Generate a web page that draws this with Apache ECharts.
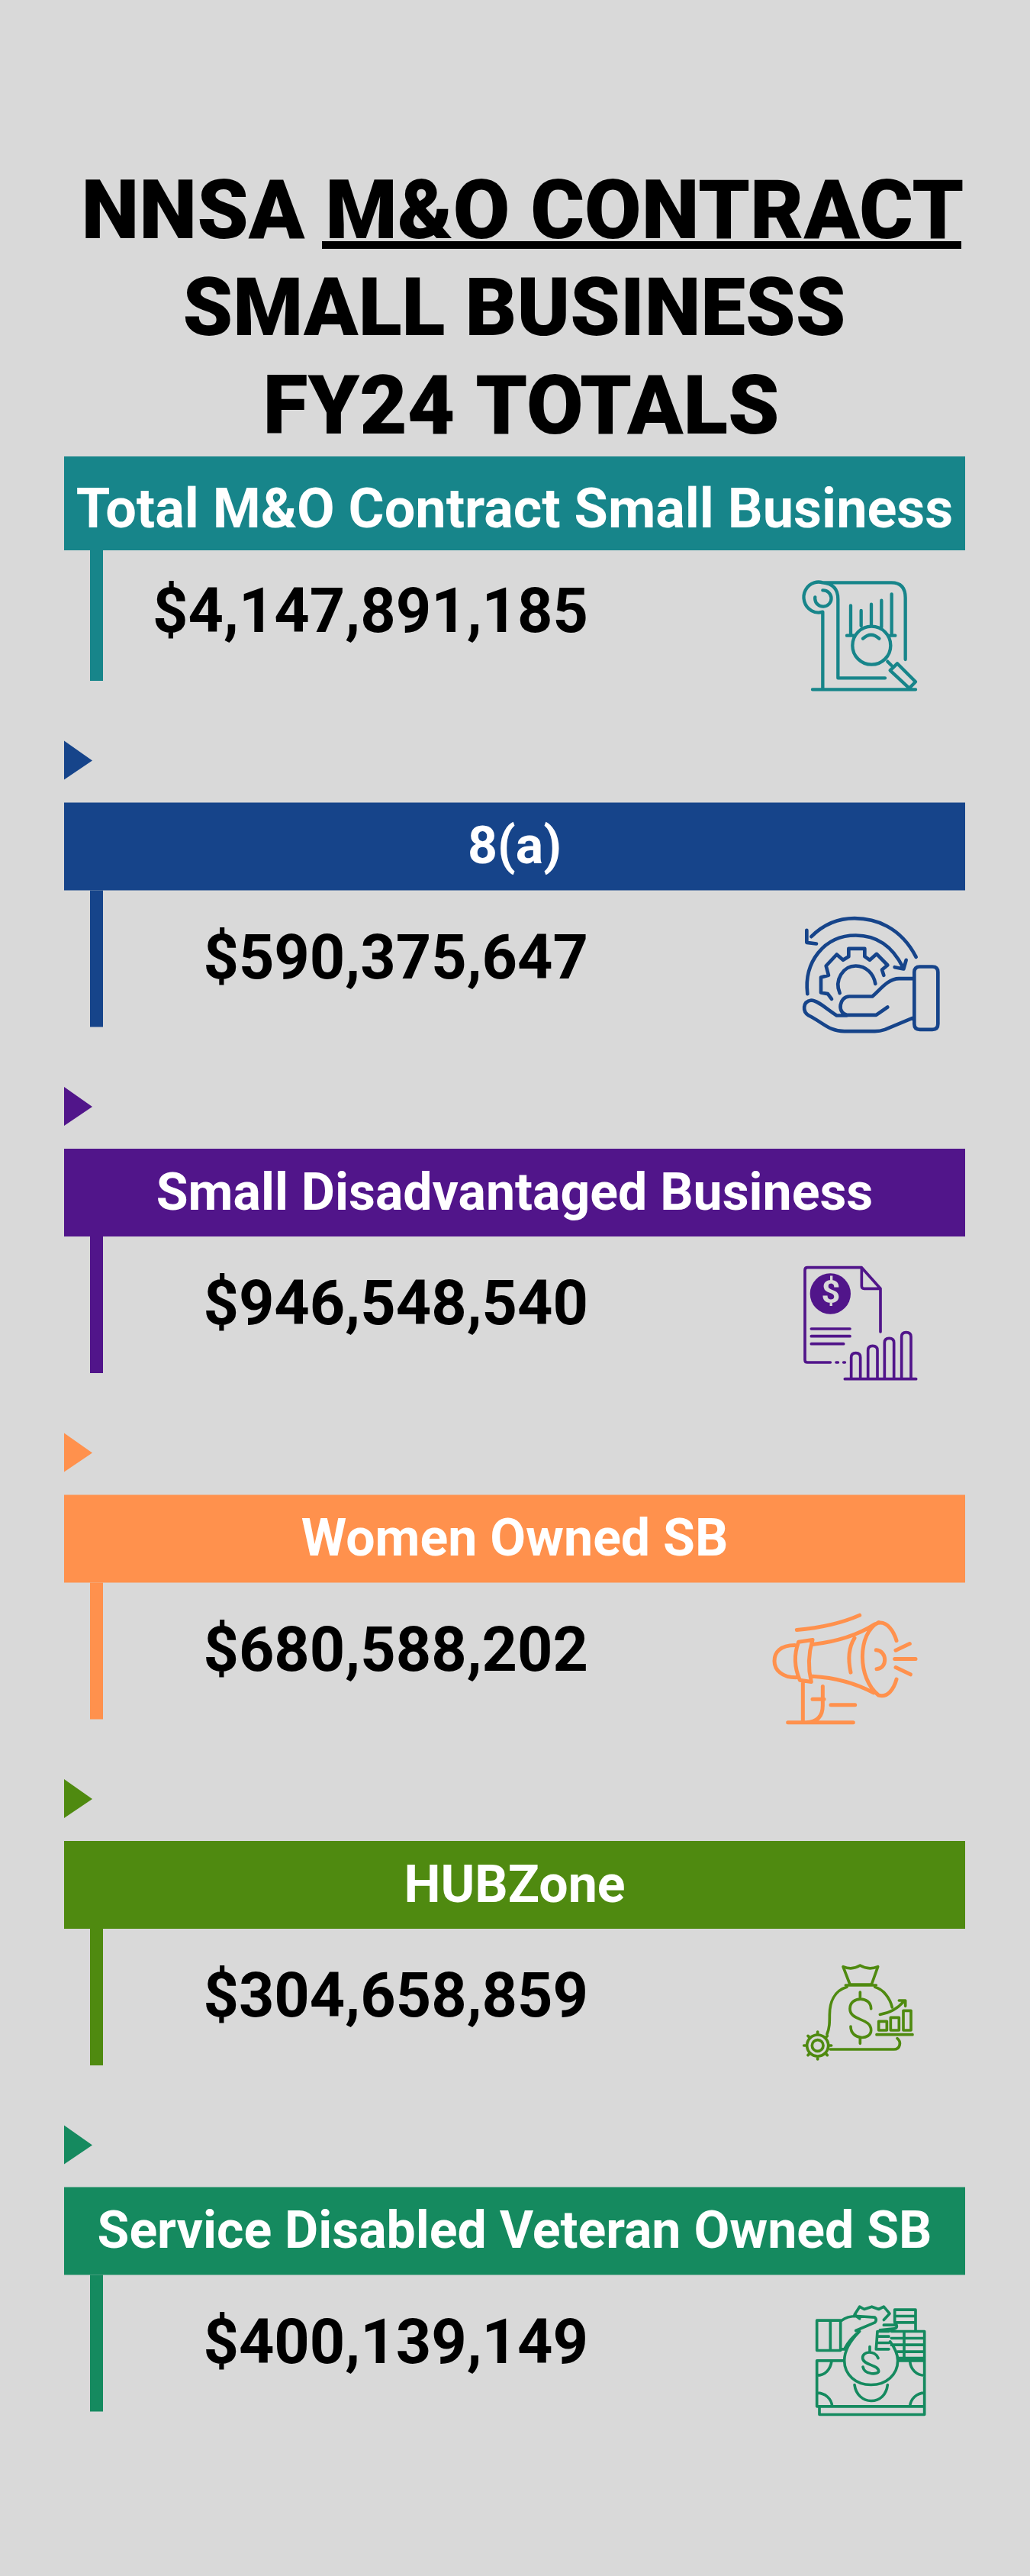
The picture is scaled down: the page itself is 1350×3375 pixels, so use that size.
<![CDATA[<!DOCTYPE html>
<html><head><meta charset="utf-8">
<style>html,body{margin:0;padding:0;background:#d9d9d9}#c{width:1350px;height:3375px}</style>
<script src="https://cdn.jsdelivr.net/npm/echarts@6/dist/echarts.min.js"></script>
</head><body><div id="c"></div>
<script>
const titleLines = ['NNSA M&O CONTRACT', 'SMALL BUSINESS', 'FY24 TOTALS'];
const categories = ['Total M&O Contract Small Business', '8(a)', 'Small Disadvantaged Business', 'Women Owned SB', 'HUBZone', 'Service Disabled Veteran Owned SB'];
const amounts = [4147891185, 590375647, 946548540, 680588202, 304658859, 400139149];
const colors = ['#17858a', '#16448a', '#51158a', '#ff914d', '#4f8a10', '#158a5f'];

const iconPaths = [
  'M385 245 A58 60 0 1 1 385 130 L655 130 Q710 130 710 190 L710 432 M385 245 L385 550 M385 130 Q445 135 445 195 L445 505 L630 505 M385 160 A32 32 0 1 1 355 187 M345 550 L750 550 M495 220 L495 335 M536 240 L536 300 M576 215 L576 300 M616 200 L616 305 M656 175 L656 335 M480 338 L505 338 M650 338 L670 338 M652 377 A75 75 0 1 1 502 377 A75 75 0 1 1 652 377 M543 350 Q575 320 607 350 M640 440 L655 455 M650 475 L678 448 L750 520 L725 545 Z',
  'M752 250 C690 130 590 98 510 98 C440 98 385 125 340 170 M322 145 L322 193 L360 198 M325 395 C310 270 390 165 515 165 C600 165 660 210 700 290 M713 262 L703 297 L668 290 M420 415 L405 395 L378 390 L378 330 L408 322 L398 285 L440 240 L465 262 L487 248 L487 217 L550 217 L550 248 L570 262 L597 238 L640 282 L618 300 L625 322 M452 392 C430 340 465 285 515 285 C555 285 585 315 592 355 M767 288 L816 288 Q838 288 838 310 L838 513 Q838 535 816 535 L767 535 Q745 535 745 513 L745 310 Q745 288 767 288 Z M745 335 L685 335 C640 335 610 380 580 405 L490 405 C450 405 440 470 480 478 L595 478 L640 447 M745 487 L630 535 Q610 542 590 542 L470 542 C410 542 390 510 330 480 C305 465 305 425 340 420 C365 420 400 455 440 480 L480 480',
  'M612 345 L612 175 L538 92 L325 92 Q315 92 315 102 L315 455 Q315 465 325 465 L415 465 M538 92 L538 165 Q538 175 548 175 L612 175 M438 465 L445 465 M467 465 L472 465 M340 333 L492 333 M340 362 L492 362 M340 392 L467 392 M472 530 L752 530 M497 530 L497 445 Q497 428 515 428 Q533 428 533 445 L533 530 M563 530 L563 417 Q563 400 581 400 Q600 400 600 417 L600 530 M628 530 L628 387 Q628 370 646 370 Q665 370 665 387 L665 530 M695 530 L695 364 Q695 347 713 347 Q732 347 732 364 L732 530',
  'M283 168 C370 160 450 145 530 110 M275 228 C220 228 195 255 195 290 C195 325 225 355 280 355 M290 215 Q262 290 295 365 L340 372 Q320 290 345 207 Z M345 225 C430 215 520 190 590 145 M345 350 C430 355 510 375 585 415 M605 140 C640 135 665 175 675 210 M605 138 C520 180 520 360 605 425 C640 435 665 400 675 362 M510 200 C485 240 485 290 495 335 M595 247 C640 250 640 320 597 322 M672 248 L727 222 M668 282 L750 282 M672 315 L730 343 M307 375 L307 530 M248 532 L505 532 M385 390 L385 465 C385 510 360 530 320 532 M345 440 L390 440 M417 463 L512 463',
  'M465 110 Q500 125 532 105 Q565 125 602 110 L577 180 L492 180 Z M475 183 L595 183 M480 190 C430 205 412 250 412 300 C412 330 412 350 402 375 M590 190 C625 200 650 235 658 270 M415 435 L665 435 C690 435 695 405 678 392 M575 275 C575 225 492 225 492 275 C492 325 575 310 575 360 C575 400 495 400 495 345 M532 210 L532 230 M532 390 L532 412 M610 298 C650 292 680 275 705 245 M685 243 L710 243 L710 265 M605 325 L637 325 L637 360 L605 360 Z M652 310 L685 310 L685 360 L652 360 Z M702 283 L732 283 L732 360 L702 360 Z M597 377 L738 377 M407 420 A42 42 0 1 1 323 420 A42 42 0 1 1 407 420 M387 420 A22 22 0 1 1 343 420 A22 22 0 1 1 387 420 M365 366 L365 378 M365 474 L365 462 M311 420 L323 420 M419 420 L407 420 M327 382 L335 390 M403 382 L395 390 M327 458 L335 450 M403 458 L395 450',
  'M362 490 L362 310 L465 310 M680 310 L785 310 L785 490 L362 490 M372 492 L372 522 L785 522 L785 490 M362 368 C395 368 415 345 420 312 M785 368 C755 368 730 345 728 312 M362 437 C395 437 420 460 422 490 M785 437 C755 437 730 460 728 490 M530 195 C490 235 470 270 470 310 C470 365 515 405 575 405 C635 405 680 365 680 310 C680 280 665 255 650 235 M510 405 C515 445 545 468 575 468 C610 468 635 445 640 405 M603 300 C590 268 540 272 542 300 C545 330 605 325 605 352 C605 365 550 368 543 335 M570 255 L570 275 M510 130 L530 98 L548 108 L578 98 L605 108 L625 98 L648 125 L625 150 M510 130 L530 145 M362 152 L455 152 L455 270 L362 270 Z M415 152 L415 270 M460 152 Q480 135 520 135 L590 140 Q600 150 590 160 L515 192 M455 265 L470 265 Q490 225 530 195 M625 170 L675 170 Q680 185 660 185 L610 190 M600 215 L645 215 M600 240 L645 240 M600 265 L645 265 M605 195 L645 195 M600 195 L595 265 M668 160 L668 110 L750 110 L750 190 M675 135 L750 135 M675 160 L750 160 M655 195 L785 195 L785 310 M655 222 L785 222 M655 248 L785 248 M680 275 L785 275 M685 300 L785 300 M705 200 L705 305'
];
const iconStroke = [13, 14, 11, 15, 11, 11];
const iconOffset = [122, 119, 125, 121, 128, 124];
const titleCentre = [680, 669, 678];
const titleSize = [108, 105, 108];

iconPaths.forEach((d, i) => {
  echarts.graphic.registerShape('rowIcon' + i, echarts.graphic.extendPath(d));
});

const FONT = 'Roboto';
const chart = echarts.init(document.getElementById('c'), null, { renderer: 'canvas', width: 1350, height: 3375 });

function renderRow(params, api) {
  const i = api.value(1);
  const centre = api.coord([0, i]);
  const step = api.size([0, 1])[1];
  const left = api.coord([0, i])[0];
  const right = api.coord([1, i])[0];
  const top = centre[1] - step / 2;
  const color = colors[i];
  const headH = i === 0 ? 123 : 115;
  const children = [
    { type: 'rect', shape: { x: left, y: top, width: right - left, height: headH }, style: { fill: color } },
    { type: 'rect', shape: { x: left + 34, y: top + headH, width: 17, height: 294 - headH }, style: { fill: color } },
    { type: 'text', style: { text: categories[i], x: (left + right) / 2, y: top + headH / 2 + (i === 0 ? 13 : 5), fill: '#ffffff',
        font: '700 ' + (i === 0 ? 72 : 68) + 'px ' + FONT, textAlign: 'center', textVerticalAlign: 'middle' } },
    { type: 'text', style: { text: '$' + amounts[i].toLocaleString('en-US'), x: 771, y: top + 210, fill: '#000000',
        font: '700 81px ' + FONT, textAlign: 'right', textVerticalAlign: 'middle' } },
    { type: 'group', x: 950, y: top + iconOffset[i], scaleX: 1 / 3, scaleY: 1 / 3, children: [
        { type: 'rowIcon' + i, style: { fill: 'none', stroke: color, lineWidth: iconStroke[i], lineCap: 'round', lineJoin: 'round' } }
      ].concat(i === 2 ? [
        { type: 'circle', shape: { cx: 415, cy: 195, r: 80 }, style: { fill: color } },
        { type: 'text', style: { text: '$', x: 417, y: 198, fill: '#d9d9d9', font: '700 130px ' + FONT, textAlign: 'center', textVerticalAlign: 'middle' } }
      ] : []) }
  ];
  if (i > 0) {
    children.push({ type: 'polygon', shape: { points: [[left, top - 81], [left + 37, top - 55], [left, top - 30]] }, style: { fill: color } });
  }
  return { type: 'group', children };
}

chart.setOption({
  backgroundColor: '#d9d9d9',
  animation: false,
  title: titleLines.map((t, i) => ({
    text: t, left: titleCentre[i], textAlign: 'center', top: 215 + 128 * i,
    textStyle: { fontFamily: FONT, fontWeight: 900, fontSize: titleSize[i], color: '#000000', lineHeight: 130 }
  })),
  grid: { left: 84, right: 85, top: 598, height: 2721 },
  xAxis: { type: 'value', min: 0, max: 1, show: false },
  yAxis: { type: 'category', data: categories, inverse: true, show: false },
  graphic: [{ type: 'rect', shape: { x: 422, y: 316, width: 838, height: 10 }, style: { fill: '#000000' } }],
  series: [{
    type: 'custom', coordinateSystem: 'cartesian2d', clip: false, silent: true,
    encode: { x: 0, y: 1 },
    data: categories.map(c => [0, c]),
    renderItem: renderRow
  }]
});
</script></body></html>]]>
